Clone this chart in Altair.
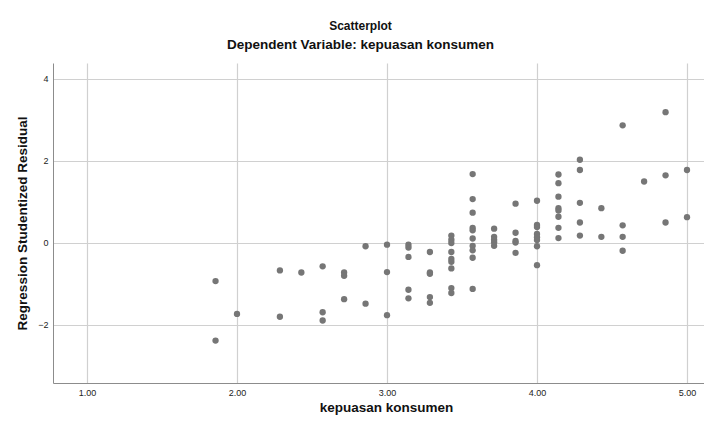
import altair as alt
import pandas as pd

# x: kepuasan konsumen, y: Regression Studentized Residual
kepuasan = (
    [1.857] * 2 + [2.0] * 1 + [2.286] * 2 + [2.429] * 1 + [2.571] * 3 + [2.714] * 3 +
    [2.857] * 2 + [3.0] * 3 + [3.143] * 5 + [3.286] * 5 + [3.429] * 9 + [3.571] * 10 +
    [3.714] * 5 + [3.857] * 5 + [4.0] * 8 + [4.143] * 8 + [4.286] * 5 + [4.429] * 2 +
    [4.571] * 4 + [4.714] * 1 + [4.857] * 3 + [5.0] * 2
)
residual = [
    -0.93, -2.38,
    -1.73,
    -0.67, -1.80,
    -0.72,
    -0.57, -1.69, -1.89,
    -0.72, -0.80, -1.37,
    -0.08, -1.48,
    -0.04, -0.71, -1.76,
    -0.04, -0.11, -0.34, -1.14, -1.35,
    -0.22, -0.72, -0.75, -1.32, -1.46,
    0.18, 0.08, 0.00, -0.22, -0.39, -0.46, -0.62, -1.10, -1.22,
    1.68, 1.07, 0.74, 0.37, 0.31, 0.11, -0.07, -0.18, -0.36, -1.12,
    0.35, 0.15, 0.08, 0.02, -0.07,
    0.96, 0.25, 0.05, 0.01, -0.24,
    1.03, 0.44, 0.39, 0.22, 0.14, 0.07, -0.08, -0.54,
    1.67, 1.46, 1.13, 0.85, 0.79, 0.64, 0.37, 0.12,
    2.03, 1.78, 0.98, 0.50, 0.18,
    0.85, 0.15,
    2.87, 0.43, 0.15, -0.19,
    1.50,
    3.19, 1.65, 0.50,
    1.78, 0.63,
]
x_ticks = [1, 2, 3, 4, 5]
y_ticks = [-2, 0, 2, 4]

df = pd.DataFrame({"kepuasan": kepuasan, "residual": residual})

FONT = "Liberation Sans"

chart = alt.Chart(df).mark_circle(size=40, color="#767676", opacity=1).encode(
    x=alt.X(
        "kepuasan:Q",
        scale=alt.Scale(domain=[0.7733, 5.1133], nice=False, zero=False),
        axis=alt.Axis(
            values=x_ticks, format=".2f", title="kepuasan konsumen",
            ticks=False, labelFontSize=9, labelPadding=5, labelColor="#222",
            titleFontSize=13.5, titleFontWeight="bold", titleColor="#111",
            titleY=24.5, titleBaseline="middle", titleX=333,
            domainColor="#8c8c8c", gridColor="#d0d0d0", gridWidth=1.2,
        ),
    ),
    y=alt.Y(
        "residual:Q",
        scale=alt.Scale(domain=[-3.415, 4.39], nice=False, zero=False),
        axis=alt.Axis(
            values=y_ticks, format="d", title="Regression Studentized Residual",
            ticks=False, labelFontSize=9, labelPadding=5, labelColor="#222",
            titleFontSize=13.5, titleFontWeight="bold", titleColor="#111",
            titleX=-31, titleY=160, titleBaseline="middle", titleAngle=270,
            domainColor="#8c8c8c", gridColor="#d0d0d0", gridWidth=1.2,
        ),
    ),
).properties(
    width=651,
    height=320,
    padding={"left": 45, "top": 55, "right": 0, "bottom": 33},
    autosize=alt.AutoSizeParams(type="none"),
    title=alt.TitleParams(
        text="Scatterplot",
        subtitle="Dependent Variable: kepuasan konsumen",
        anchor="middle", frame="group", dx=-18,
        fontSize=12, fontWeight="bold", color="#111",
        subtitleFontSize=13.5, subtitleFontWeight="bold", subtitleColor="#111",
        subtitlePadding=5, offset=11, font=FONT, subtitleFont=FONT,
    ),
).configure(font=FONT).configure_view(stroke=None)

chart.save("out.html", embed_options={"renderer": "svg", "actions": False})
